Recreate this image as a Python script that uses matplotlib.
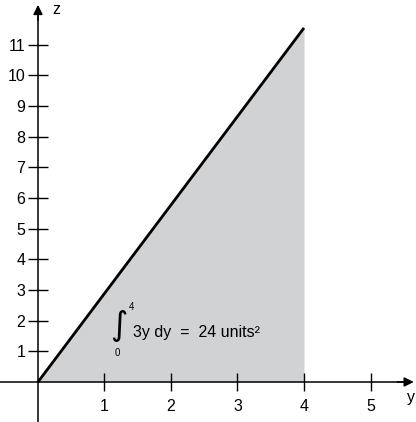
import matplotlib
matplotlib.use("Agg")
import matplotlib.pyplot as plt
import numpy as np

plt.rcParams['font.family'] = ['Liberation Sans', 'DejaVu Sans']

# data
y_line = [0, 4]
z_line = [0, 11.55]
x_ticks = [1, 2, 3, 4, 5]
z_ticks = [1, 2, 3, 4, 5, 6, 7, 8, 9, 10, 11]
fill_color = '#d1d2d4'

fig = plt.figure(figsize=(4.16, 4.22), dpi=100)
ax = fig.add_axes([0, 0, 1, 1])
ax.set_xlim(-0.571, 5.684)
ax.set_ylim(-1.305, 12.46)

ax.fill_between(y_line, [0, 0], z_line, color=fill_color, lw=0, zorder=1)
ax.plot(y_line, z_line, color='black', lw=2, zorder=3, solid_capstyle='butt')

for s in ['top', 'right']:
    ax.spines[s].set_visible(False)
ax.spines['left'].set_position(('data', 0))
ax.spines['bottom'].set_position(('data', 0))
ax.spines['left'].set_bounds(-1.305, 11.95)
ax.spines['bottom'].set_bounds(-0.571, 5.5)
ax.spines['left'].set_linewidth(1.1)
ax.spines['bottom'].set_linewidth(1.1)
ax.spines['left'].set_zorder(4)
ax.spines['bottom'].set_zorder(4)

ax.set_xticks(x_ticks)
ax.set_yticks(z_ticks)
ax.tick_params(axis='y', direction='inout', length=14, width=1, pad=2, labelsize=11.5)
ax.tick_params(axis='x', direction='inout', length=13, width=1, pad=6, labelsize=11.5)

# arrowheads
ax.annotate('', xy=(0, 12.3), xytext=(0, 11.8),
            arrowprops=dict(arrowstyle='-|>', color='black', lw=1.1, mutation_scale=14,
                            shrinkA=0, shrinkB=0))
ax.annotate('', xy=(5.65, 0), xytext=(5.4, 0),
            arrowprops=dict(arrowstyle='-|>', color='black', lw=1.1, mutation_scale=14,
                            shrinkA=0, shrinkB=0))

ax.text(0.27, 12.14, 'z', fontsize=11.5, ha='center', va='center')
ax.text(5.61, -0.49, 'y', fontsize=11.5, ha='center', va='center')

# integral annotation
ax.text(1.22, 1.85, '\u222b', fontsize=24, ha='center', va='center',
        family=['DejaVu Sans'])
ax.text(1.40, 2.45, '4', fontsize=7, ha='center', va='center')
ax.text(1.188, 0.95, '0', fontsize=7, ha='center', va='center')
ax.text(1.43, 1.63, '3y dy  =  24 units\u00b2', fontsize=11.5, ha='left', va='center')

fig.savefig('out.png', dpi=100)
